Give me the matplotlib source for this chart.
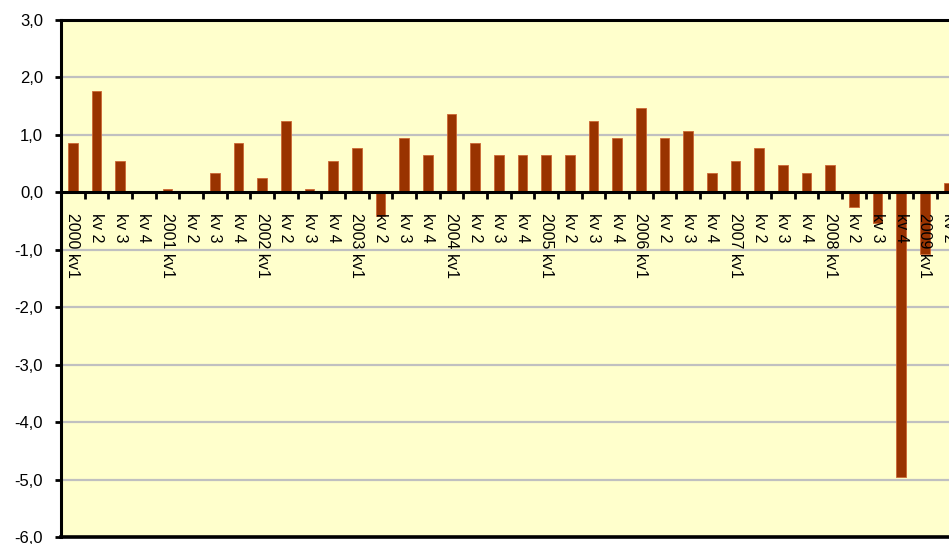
import numpy as np
import matplotlib
matplotlib.use("Agg")
import matplotlib.pyplot as plt
import matplotlib.transforms as mtransforms

plt.rcParams['font.family'] = ['Liberation Sans', 'DejaVu Sans']

# quarterly values, 2000 kv1 .. 2009 kv2
categories = []
for year in range(2000, 2010):
    for q in range(1, 5):
        categories.append(f"{year} kv1" if q == 1 else f"kv {q}")
categories = categories[:38]

values = [0.86, 1.77, 0.55, 0.0,
          0.05, 0.0, 0.34, 0.86,
          0.25, 1.25, 0.05, 0.55,
          0.77, -0.42, 0.95, 0.65,
          1.37, 0.86, 0.65, 0.65,
          0.65, 0.65, 1.25, 0.95,
          1.46, 0.95, 1.07, 0.34,
          0.55, 0.77, 0.47, 0.34,
          0.47, -0.25, -0.54, -4.95,
          -1.08, 0.16]

y_ticks = np.arange(-6, 4, 1)
y_labels = [f"{t:.1f}".replace('.', ',') for t in y_ticks]

W, H = 949, 544
fig = plt.figure(figsize=(W / 100, H / 100), dpi=100)
fig.patch.set_facecolor('white')

# axes extends past the right edge of the picture (cropped chart)
ax = fig.add_axes([61 / W, 7 / H, 923 / W, 517 / H])
ax.set_facecolor('#FFFFCC')

x = np.arange(len(values))
ax.bar(x, values, width=0.42, color='#993300', edgecolor='#CC6633',
       linewidth=0.6, zorder=3)

ax.set_xlim(-0.5, 38.5)
ax.set_ylim(-6, 3)

# gridlines
for t in y_ticks:
    if t not in (-6, 0, 3):
        ax.axhline(t, color='#C0C0C0', linewidth=1.6, zorder=1)

ax.set_yticks(y_ticks)
ax.set_yticklabels(y_labels, fontsize=12)
ax.tick_params(axis='y', direction='out', length=4, width=2, pad=9)

# category axis sits at zero
ax.spines['bottom'].set_position(('data', 0))
ax.spines['bottom'].set_linewidth(2.2)
ax.spines['bottom'].set_zorder(4)
ax.set_xticks(np.arange(len(values)) + 0.5)
ax.set_xticklabels([])
ax.tick_params(axis='x', direction='out', length=5, width=2)
ax.spines['left'].set_linewidth(2.2)
ax.spines['top'].set_linewidth(2.2)
ax.spines['right'].set_visible(False)
ax.axhline(-6, color='black', linewidth=2.6, clip_on=False, zorder=5)

trans = mtransforms.offset_copy(ax.transData, fig=fig, x=0, y=-21, units='dots')
for i, lab in enumerate(categories):
    ax.text(i, 0, lab, rotation=270, ha='center', va='top', fontsize=11.5,
            transform=trans, zorder=6)

fig.savefig('out.png', dpi=100)
